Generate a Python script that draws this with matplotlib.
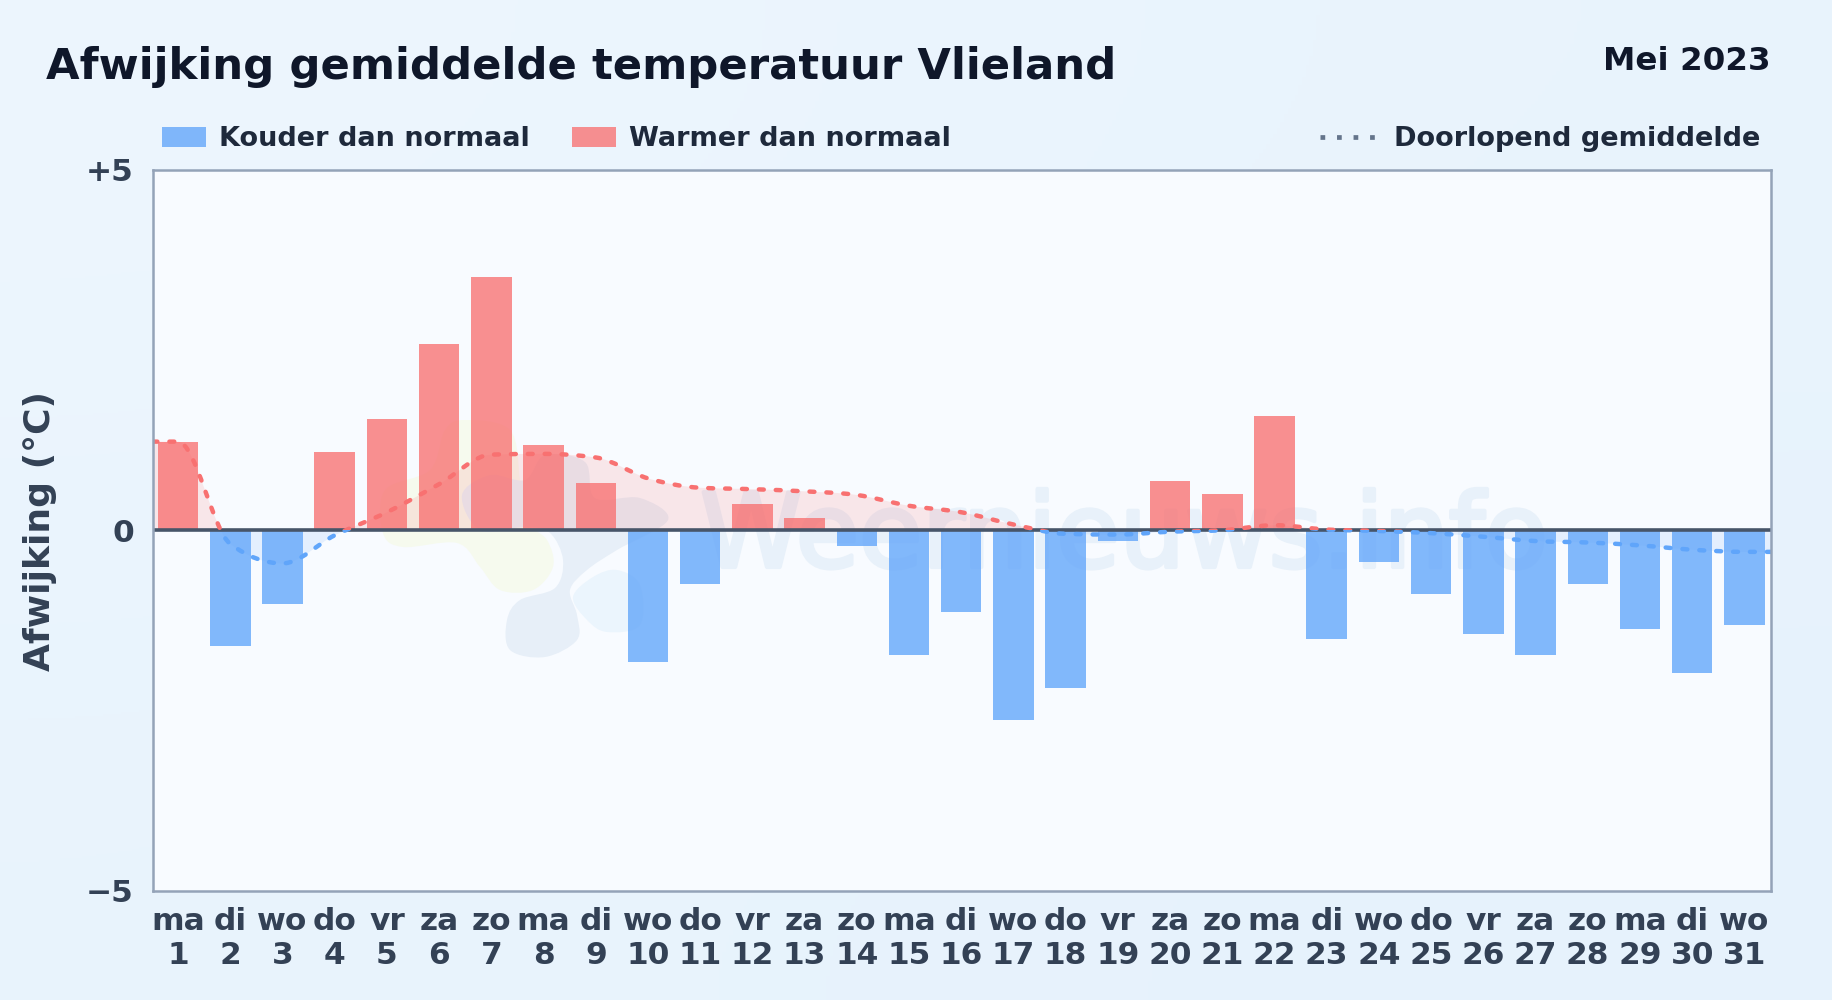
import numpy as np
import matplotlib
matplotlib.use("Agg")
import matplotlib.pyplot as plt
import matplotlib.patheffects as pe
from matplotlib.colors import LinearSegmentedColormap
from matplotlib.lines import Line2D
from matplotlib.patches import Patch, PathPatch, Rectangle
from matplotlib.path import Path
from matplotlib.transforms import Affine2D

W, H = 1832, 1000

# ─── data ─────────────────────────────────────────────────────────────────────
days = list(range(1, 32))
weekdays = ["ma", "di", "wo", "do", "vr", "za", "zo"] * 4 + ["ma", "di", "wo"]
deviation = [1.23, -1.61, -1.02, 1.08, 1.54, 2.58, 3.52, 1.18, 0.65, -1.83, -0.75,
             0.36, 0.17, -0.22, -1.73, -1.13, -2.63, -2.19, -0.15, 0.68, 0.51,
             1.58, -1.51, -0.44, -0.89, -1.44, -1.73, -0.75, -1.37, -1.98, -1.32]
running_mean = [1.23, -0.19, -0.46, -0.07, 0.25, 0.64, 1.05, 1.06, 1.01, 0.72, 0.59,
                0.57, 0.54, 0.49, 0.34, 0.25, 0.08, -0.05, -0.06, -0.02, 0.00,
                0.07, 0.01, -0.01, -0.04, -0.09, -0.15, -0.17, -0.21, -0.27, -0.30]
y_ticks = [-5, 0, 5]
y_tick_labels = ["\u22125", "0", "+5"]

# ─── colours ──────────────────────────────────────────────────────────────────
BLUE = "#60a5fa"
RED = "#f87171"
INK = "#0f172a"
LEGEND_INK = "#1e293b"
AXIS_INK = "#334155"
FRAME = "#94a3b8"

# faint logo behind the bars, outlines in page pixels
LOGO_SHAPES = [
    ("#f6faee", [(465, 420), (510, 430), (520, 480), (525, 520), (547, 540), (553, 567),
                 (533, 590), (500, 590), (480, 567), (457, 543), (403, 547), (383, 533),
                 (385, 490), (430, 470), (445, 430)]),
    ("#e7eff8", [(462, 495), (490, 475), (525, 480), (545, 455), (585, 462), (595, 498),
                 (640, 498), (668, 520), (617, 550), (587, 570), (570, 590), (577, 615),
                 (577, 640), (545, 657), (510, 650), (507, 620), (520, 600), (555, 588),
                 (563, 560), (550, 533), (525, 527), (480, 530)]),
    ("#ebf5fd", [(573, 597), (593, 577), (617, 570), (640, 585), (640, 625), (607, 632),
                 (587, 620)]),
]


def monotone_path(xs, ys):
    """Cubic bezier path through the points, without overshoot (monotone X)."""
    xs, ys = np.asarray(xs, float), np.asarray(ys, float)
    h = np.diff(xs)
    s = np.diff(ys) / h
    t = np.zeros(len(xs))
    for i in range(1, len(xs) - 1):
        if s[i - 1] * s[i] > 0:
            p = (s[i - 1] * h[i] + s[i] * h[i - 1]) / (h[i - 1] + h[i])
            t[i] = np.sign(s[i]) * min(abs(s[i - 1]), abs(s[i]), 0.5 * abs(p)) * 2
    t[0], t[-1] = s[0], s[-1]
    verts, codes = [(xs[0], ys[0])], [Path.MOVETO]
    for i in range(len(h)):
        d = h[i] / 3
        verts += [(xs[i] + d, ys[i] + t[i] * d),
                  (xs[i + 1] - d, ys[i + 1] - t[i + 1] * d),
                  (xs[i + 1], ys[i + 1])]
        codes += [Path.CURVE4] * 3
    return verts, codes


def blob_path(points):
    """Closed smooth outline through the points (Catmull-Rom as beziers)."""
    pts = np.asarray(points, float)
    n = len(pts)
    verts, codes = [pts[0]], [Path.MOVETO]
    for i in range(n):
        p0, p1, p2, p3 = pts[i - 1], pts[i], pts[(i + 1) % n], pts[(i + 2) % n]
        verts += [p1 + (p2 - p0) / 6, p2 - (p3 - p1) / 6, p2]
        codes += [Path.CURVE4] * 3
    return Path(verts, codes)


fig = plt.figure(figsize=(W / 100, H / 100), dpi=100)
px = Affine2D().scale(1 / W, -1 / H).translate(0, 1) + fig.transFigure

# page background, slightly lighter at the top left
bg = fig.add_axes([0, 0, 1, 1], zorder=-5)
bg.axis("off")
bg.imshow([[0.0, 0.6], [0.6, 1.0]], cmap=LinearSegmentedColormap.from_list(
    "page", ["#edf6fe", "#e6f2fc"]), aspect="auto", interpolation="bicubic", extent=(0, 1, 0, 1))

XMIN, XMAX = 0.51, 31.51
ax = fig.add_axes([152.5 / W, 1 - 890.5 / H, (1771 - 152.5) / W, (890.5 - 170) / H])
ax.set_facecolor("#f8fbff")
ax.set_xlim(XMIN, XMAX)
ax.set_ylim(-5, 5)

# ─── watermark ────────────────────────────────────────────────────────────────
for col, outline in LOGO_SHAPES:
    ax.add_patch(PathPatch(blob_path(outline), transform=px, facecolor=col, edgecolor="none", zorder=1))
ax.text(1124 / W, 1 - 567 / H, "Weernieuws.info", transform=fig.transFigure, ha="center",
        va="baseline", fontsize=74, color="#e8f1fa", zorder=1,
        path_effects=[pe.withStroke(linewidth=3, foreground="#e8f1fa")])

# ─── running mean area ────────────────────────────────────────────────────────
line_x = [XMIN] + days + [XMAX]
line_y = [running_mean[0]] + running_mean + [running_mean[-1]]
verts, codes = monotone_path(line_x, line_y)
above = Rectangle((XMIN, 0), 31, 5, transform=ax.transData)
below = Rectangle((XMIN, -5), 31, 5, transform=ax.transData)

for col, alpha, clip in [(RED, 0.15, above), (BLUE, 0.13, below)]:
    area = PathPatch(Path(verts + [(XMAX, 0), (XMIN, 0), (XMIN, 0)],
                          codes + [Path.LINETO, Path.LINETO, Path.CLOSEPOLY]),
                     facecolor=col, edgecolor="none", alpha=alpha, zorder=2)
    ax.add_patch(area)
    area.set_clip_path(clip)

# ─── bars ─────────────────────────────────────────────────────────────────────
colors = [RED if v >= 0 else BLUE for v in deviation]
ax.bar(days, deviation, width=0.775, color=colors, alpha=0.78, linewidth=0, zorder=3)
ax.axhline(0, color="#475569", linewidth=2.6, zorder=4)

for col, clip in [(RED, above), (BLUE, below)]:
    curve = PathPatch(Path(verts, codes), fill=False, edgecolor=col, linewidth=3.2,
                      linestyle=(0, (1.1, 2.7)), capstyle="round", zorder=5)
    ax.add_patch(curve)
    curve.set_clip_path(clip)

# ─── axes ─────────────────────────────────────────────────────────────────────
for spine in ax.spines.values():
    spine.set_color(FRAME)
    spine.set_linewidth(1.8)
    spine.set_zorder(6)
ax.set_xticks(days)
ax.set_xticklabels([f"{w}\n{d}" for w, d in zip(weekdays, days)], linespacing=1.2)
ax.set_yticks(y_ticks)
ax.set_yticklabels(y_tick_labels)
ax.tick_params(axis="both", length=0, labelsize=22.5, labelcolor=AXIS_INK)
ax.tick_params(axis="y", pad=13.5)
ax.tick_params(axis="x", pad=12)
for lab in ax.get_xticklabels() + ax.get_yticklabels():
    lab.set_fontweight("bold")

fig.text(40.5 / W, 1 - 531 / H, "Afwijking (°C)", rotation=90, ha="center", va="center",
         fontsize=26, fontweight="bold", color=AXIS_INK)
fig.text(46 / W, 1 - 79 / H, "Afwijking gemiddelde temperatuur Vlieland", ha="left",
         va="baseline", fontsize=31.25, fontweight="bold", color=INK)
fig.text(1771 / W, 1 - 70 / H, "Mei 2023", ha="right", va="baseline", fontsize=23.4,
         fontweight="bold", color=INK)

# ─── legends ──────────────────────────────────────────────────────────────────
bar_handles = [Patch(facecolor=BLUE, alpha=0.78, linewidth=0),
               Patch(facecolor=RED, alpha=0.78, linewidth=0)]
fig.legend(bar_handles, ["Kouder dan normaal", "Warmer dan normaal"],
           loc="center left", bbox_to_anchor=(162 / W, 1 - 139.5 / H), ncols=2,
           frameon=False, borderpad=0, borderaxespad=0, handlelength=1.62,
           handleheight=0.72, handletextpad=0.49, columnspacing=1.56,
           prop={"size": 19.5, "weight": "bold"}, labelcolor=LEGEND_INK)
line_handle = Line2D([], [], color="#64748b", linewidth=3.4, linestyle=(0, (1.0, 2.5)),
                     dash_capstyle="butt")
fig.legend([line_handle], ["Doorlopend gemiddelde"], loc="center right",
           bbox_to_anchor=(1760 / W, 1 - 139.5 / H), frameon=False, borderpad=0,
           borderaxespad=0, handlelength=2.1, handletextpad=0.63,
           prop={"size": 19.5, "weight": "bold"}, labelcolor=LEGEND_INK)

fig.savefig("out.png", dpi=100, facecolor="#e8f3fc")
plt.close(fig)
